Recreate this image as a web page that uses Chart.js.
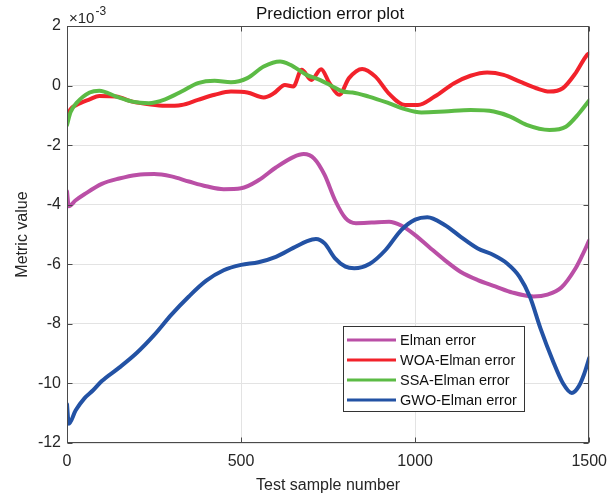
<!DOCTYPE html>
<html>
<head>
<meta charset="utf-8">
<script src="https://cdn.jsdelivr.net/npm/chart.js@4"></script>
<style>
html,body{margin:0;padding:0;background:#fff;}
#wrap{width:616px;height:499px;position:relative;}
</style>
</head>
<body>
<div id="wrap"><canvas id="c" width="616" height="499"></canvas></div>
<script>
// values in units of 1e-3
const seriesNames = ["Elman error","WOA-Elman error","SSA-Elman error","GWO-Elman error"];
const xTicks = [0,500,1000,1500];
const yTicks = [-12,-10,-8,-6,-4,-2,0,2];

const elmanX = [0,5,25,50,100,150,200,250,300,350,400,450,500,550,600,650,680,710,740,770,800,830,875,925,960,1000,1040,1085,1130,1180,1230,1280,1340,1380,1420,1460,1480,1500];
const elmanY = [-3.55,-4.05,-3.85,-3.65,-3.3,-3.12,-3.0,-2.97,-3.05,-3.22,-3.38,-3.48,-3.45,-3.18,-2.75,-2.4,-2.3,-2.45,-3.0,-3.85,-4.45,-4.62,-4.6,-4.57,-4.7,-5.02,-5.42,-5.86,-6.25,-6.53,-6.74,-6.95,-7.08,-7.02,-6.78,-6.15,-5.7,-5.2];

const woaX = [0,10,27,65,93,141,188,235,282,329,376,424,471,518,565,594,626,650,674,702,730,754,782,810,848,886,924,971,1008,1056,1112,1159,1207,1254,1301,1348,1386,1424,1461,1494,1500];
const woaY = [-1.1,-0.8,-0.65,-0.46,-0.35,-0.37,-0.54,-0.63,-0.68,-0.65,-0.48,-0.31,-0.2,-0.23,-0.4,-0.26,0.02,-0.03,0.53,0.19,0.55,0.08,-0.31,0.25,0.56,0.3,-0.26,-0.65,-0.65,-0.37,0.08,0.33,0.44,0.36,0.13,-0.09,-0.2,-0.09,0.42,1.03,1.08];

const ssaX = [0,10,27,65,93,141,188,235,282,329,376,424,471,518,565,612,641,688,726,763,792,820,867,924,971,1018,1084,1159,1226,1273,1320,1386,1433,1471,1500];
const ssaY = [-1.32,-0.9,-0.59,-0.23,-0.17,-0.37,-0.54,-0.59,-0.46,-0.2,0.08,0.16,0.11,0.25,0.64,0.81,0.7,0.36,0.19,-0.03,-0.2,-0.23,-0.37,-0.59,-0.79,-0.9,-0.87,-0.82,-0.87,-1.04,-1.32,-1.49,-1.38,-0.93,-0.5];

const gwoX = [0,5,25,50,75,100,150,200,250,300,350,400,450,500,550,600,650,690,715,740,770,800,825,870,915,960,1000,1035,1085,1130,1180,1225,1265,1300,1330,1360,1395,1425,1450,1470,1485,1500];
const gwoY = [-10.7,-11.35,-10.9,-10.5,-10.23,-9.92,-9.47,-8.98,-8.38,-7.69,-7.08,-6.55,-6.2,-6.02,-5.93,-5.75,-5.45,-5.22,-5.15,-5.3,-5.8,-6.08,-6.13,-5.98,-5.52,-4.85,-4.5,-4.42,-4.68,-5.07,-5.47,-5.69,-5.98,-6.42,-7.1,-8.15,-9.22,-10.0,-10.32,-10.1,-9.7,-9.15];

const colors = ["#BA4FA6","#F2222B","#5CBB45","#2352A4"];

function pts(xs, ys){ return xs.map((x,i)=>({x:x,y:ys[i]})); }

const FONT = "'Liberation Sans', Arial, sans-serif";

const decor = {
  id:'decor',
  afterDraw(chart){
    const ctx = chart.ctx;
    const a = chart.chartArea;
    const xs = chart.scales.x, ys = chart.scales.y;
    ctx.save();
    // box
    ctx.strokeStyle = '#4a4a4a';
    ctx.lineWidth = 1;
    const L = Math.round(a.left)+0.5, R = Math.round(a.right)-0.5, T = Math.round(a.top)+0.5, B = Math.round(a.bottom)-0.5;
    ctx.strokeRect(L, T, R-L, B-T);
    // inner ticks
    ctx.beginPath();
    xTicks.forEach(v=>{
      const px = Math.round(xs.getPixelForValue(v))+0.5;
      ctx.moveTo(px,B); ctx.lineTo(px,B-5);
      ctx.moveTo(px,T); ctx.lineTo(px,T+5);
    });
    yTicks.forEach(v=>{
      const py = Math.round(ys.getPixelForValue(v))+0.5;
      ctx.moveTo(L,py); ctx.lineTo(L+5,py);
      ctx.moveTo(R,py); ctx.lineTo(R-5,py);
    });
    ctx.stroke();

    // title
    ctx.fillStyle = '#111';
    ctx.font = '17px ' + FONT;
    ctx.textAlign = 'center';
    ctx.textBaseline = 'alphabetic';
    ctx.fillText('Prediction error plot', (a.left+a.right)/2 + 2, 19);
    // exponent
    ctx.fillStyle = '#262626';
    ctx.textAlign = 'left';
    ctx.font = '15px ' + FONT;
    ctx.fillText('\u00D710', 69, 22.5);
    const w = ctx.measureText('\u00D710').width;
    ctx.font = '12px ' + FONT;
    ctx.fillText('-3', 69 + w + 1, 15);
    // x title
    ctx.font = '16px ' + FONT;
    ctx.textAlign = 'center';
    ctx.fillText('Test sample number', (a.left+a.right)/2, 490);
    // y title
    ctx.save();
    ctx.translate(26.5, (a.top+a.bottom)/2);
    ctx.rotate(-Math.PI/2);
    ctx.textBaseline = 'alphabetic';
    ctx.fillText('Metric value', 0, 0);
    ctx.restore();

    // legend
    const lx = 343.5, ly = 326.5, lw = 181, lh = 85;
    ctx.fillStyle = '#fff';
    ctx.fillRect(lx, ly, lw, lh);
    ctx.strokeStyle = '#333';
    ctx.lineWidth = 1;
    ctx.strokeRect(lx, ly, lw, lh);
    chart.data.datasets.forEach((ds,i)=>{
      const cy = 340 + i*20;
      ctx.strokeStyle = ds.borderColor;
      ctx.lineWidth = 3;
      ctx.beginPath();
      ctx.moveTo(347, cy); ctx.lineTo(396, cy);
      ctx.stroke();
      ctx.fillStyle = '#111';
      ctx.font = '14.5px ' + FONT;
      ctx.textAlign = 'left';
      ctx.textBaseline = 'middle';
      ctx.fillText(ds.label, 400, cy + 0.5);
    });
    ctx.restore();
  }
};

new Chart(document.getElementById('c'), {
  type:'line',
  data:{
    datasets:[
      {label:seriesNames[0], data:pts(elmanX,elmanY), borderColor:colors[0], order:4},
      {label:seriesNames[1], data:pts(woaX,woaY), borderColor:colors[1], order:3},
      {label:seriesNames[2], data:pts(ssaX,ssaY), borderColor:colors[2], order:2},
      {label:seriesNames[3], data:pts(gwoX,gwoY), borderColor:colors[3], order:1}
    ].map(d=>Object.assign(d,{borderWidth:4, pointRadius:0, fill:false, cubicInterpolationMode:'monotone', borderJoinStyle:'round', borderCapStyle:'round'}))
  },
  options:{
    responsive:false,
    animation:false,
    devicePixelRatio:1,
    layout:{padding:{left:0,right:19,top:26,bottom:0}},
    plugins:{legend:{display:false}, title:{display:false}, tooltip:{enabled:false}},
    scales:{
      x:{
        type:'linear', min:0, max:1500,
        afterBuildTicks(s){ s.ticks = xTicks.map(v=>({value:v})); },
        afterFit(s){ s.height = 56; },
        grid:{color:'#e3e3e3', drawTicks:false},
        border:{display:false},
        ticks:{padding:9, color:'#262626', font:{family:FONT, size:16}, maxRotation:0, callback:(v)=>String(v)}
      },
      y:{
        type:'linear', min:-12, max:2,
        afterBuildTicks(s){ s.ticks = yTicks.map(v=>({value:v})); },
        afterFit(s){ s.width = 67; },
        grid:{color:'#e3e3e3', drawTicks:false},
        border:{display:false},
        ticks:{padding:6, color:'#262626', font:{family:FONT, size:16}, callback:(v)=>String(v)}
      }
    }
  },
  plugins:[decor]
});
</script>
</body>
</html>
